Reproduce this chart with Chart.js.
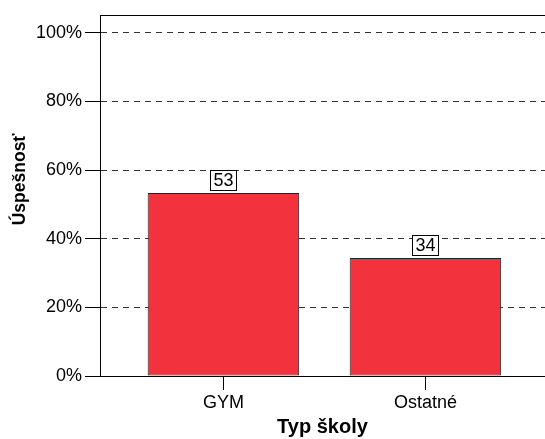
<!DOCTYPE html>
<html>
<head>
<meta charset="utf-8">
<script src="https://cdn.jsdelivr.net/npm/chart.js@4/dist/chart.umd.min.js"></script>
<style>
  html, body { margin: 0; padding: 0; background: #fff; }
  #wrap { width: 545px; height: 439px; }
</style>
</head>
<body>
<div id="wrap"><canvas id="mainchart"></canvas></div>
<script>
var categories = ['GYM', 'Ostatné'];
var values = [53.3, 34.4];
var yTicks = [0, 20, 40, 60, 80, 100];
var xTitle = 'Typ školy';
var yTitle = 'Úspešnosť';

var ctx = document.getElementById('mainchart').getContext('2d');

// frame line on top, y title and the boxed value labels
var extras = {
    id: 'extras',
    afterDraw: function (chart) {
        var c = chart.ctx;
        var area = chart.chartArea;
        c.save();
        c.strokeStyle = '#000';
        c.lineWidth = 1;
        c.beginPath();
        c.moveTo(area.left, Math.round(area.top) + 0.5);
        c.lineTo(area.right, Math.round(area.top) + 0.5);
        c.stroke();

        c.translate(20, area.top + (area.bottom - area.top) * 0.455);
        c.rotate(-Math.PI / 2);
        c.font = 'bold 17.5px "Liberation Sans", Arial, sans-serif';
        c.fillStyle = '#000';
        c.textAlign = 'center';
        c.textBaseline = 'middle';
        c.fillText(yTitle, 0, 0);
        c.restore();

        c.save();
        c.font = '18px "Liberation Sans", Arial, sans-serif';
        c.textAlign = 'center';
        c.textBaseline = 'middle';
        chart.getDatasetMeta(0).data.forEach(function (bar, i) {
            var txt = String(Math.round(values[i]));
            var w = 26;
            var h = 20;
            var x = Math.round(bar.x - w / 2) + 0.5;
            var y = Math.round(bar.y - 3 - h) + 0.5;
            c.fillStyle = '#fff';
            c.fillRect(x, y, w, h);
            c.strokeStyle = '#000';
            c.lineWidth = 1;
            c.strokeRect(x, y, w, h);
            c.fillStyle = '#000';
            c.fillText(txt, bar.x, y + h / 2 + 1);
        });
        c.restore();
    }
};

var chart = new Chart(ctx, {
    type: 'bar',
    data: {
        datasets: [{
            data: values.map(function (v, i) { return {x: i, y: v}; }),
            backgroundColor: '#F2333D',
            borderColor: '#222',
            borderWidth: 1,
            borderSkipped: false,
            categoryPercentage: 1,
            barPercentage: 0.75
        }]
    },
    plugins: [extras],
    options: {
        responsive: true,
        maintainAspectRatio: false,
        animation: false,
        layout: {padding: {top: 15, right: 0, left: 0, bottom: 0}},
        plugins: {
            legend: {display: false},
            tooltip: {enabled: false}
        },
        scales: {
            x: {
                type: 'linear',
                offset: false,
                min: -0.611,
                max: 1.592,
                afterBuildTicks: function (scale) {
                    scale.ticks = categories.map(function (c, i) { return {value: i}; });
                },
                afterFit: function (scale) { scale.height = 63; },
                grid: {
                    display: true,
                    offset: false,
                    drawOnChartArea: false,
                    tickLength: 14,
                    color: '#000',
                    tickColor: '#000'
                },
                border: {display: true, color: '#000', width: 1},
                ticks: {
                    padding: 2,
                    color: '#000',
                    font: {family: '"Liberation Sans", Arial, sans-serif', size: 18},
                    callback: function (v) { return categories[v]; }
                },
                title: {
                    display: true,
                    text: xTitle,
                    color: '#000',
                    padding: {top: 0, bottom: 0},
                    font: {family: '"Liberation Sans", Arial, sans-serif', size: 20, weight: 'bold'}
                }
            },
            y: {
                min: 0,
                max: 105.2,
                afterBuildTicks: function (scale) {
                    scale.ticks = yTicks.map(function (v) { return {value: v}; });
                },
                afterFit: function (scale) { scale.width = 100; },
                grid: {
                    color: '#333',
                    tickColor: '#000',
                    tickLength: 15,
                    tickBorderDash: []
                },
                border: {display: true, color: '#000', width: 1, dash: [6, 5]},
                ticks: {
                    padding: 3,
                    color: '#000',
                    font: {family: '"Liberation Sans", Arial, sans-serif', size: 18},
                    callback: function (v) { return v + '%'; }
                }
            }
        }
    }
});
</script>
</body>
</html>
